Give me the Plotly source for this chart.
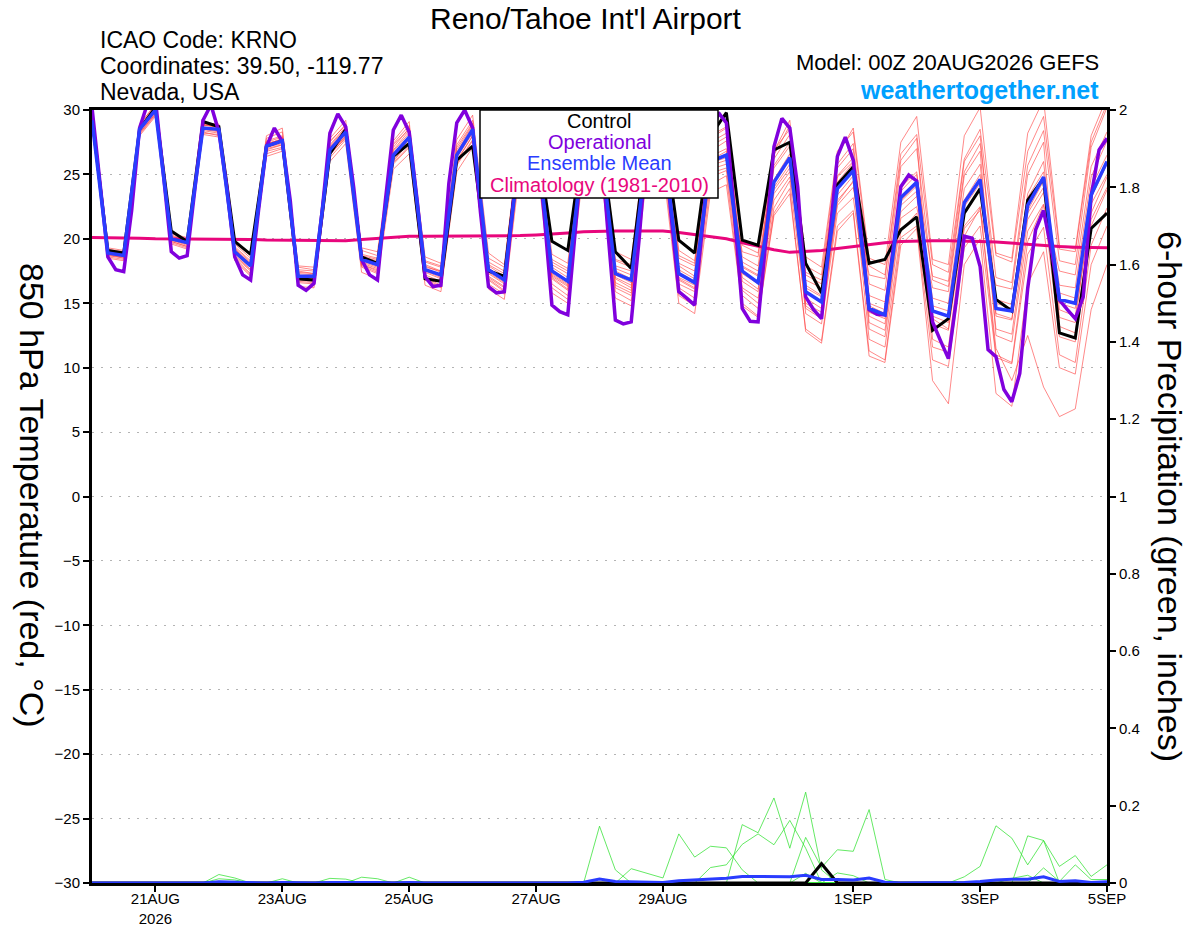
import pandas as pd
import plotly.graph_objects as go

# time axes: GEFS members every 6 h, operational GFS every 3 h
times6 = pd.date_range("2026-08-20 00:00", periods=65, freq="6h")
times3 = pd.date_range("2026-08-20 00:00", periods=129, freq="3h")

# 850 hPa temperature (C)
control_t = [29.5, 19.1, 18.9, 28.5, 30.2, 20.6, 19.8, 29.1, 28.7, 19.8, 18.8, 27.2, 27.6,
             16.9, 16.8, 26.6, 28.5, 18.6, 18.1, 26.4, 27.4, 16.9, 16.7, 26.1, 27.2,
             17.5, 17.1, 27.5, 28.3, 19.8, 19.1, 28.0, 28.5, 19.0, 17.7, 27.8, 28.8,
             19.9, 18.9, 28.0, 29.8, 19.9, 19.5, 26.9, 27.5, 18.1, 15.8, 24.2, 25.6,
             18.1, 18.4, 20.7, 21.7, 12.9, 13.8, 22.0, 23.9, 15.3, 14.4, 23.0, 24.7,
             12.7, 12.3, 20.8, 22.0]

ens_mean_t = [29.2, 18.9, 18.7, 28.5, 30.0, 20.0, 19.7, 28.6, 28.5, 19.0, 17.9, 27.2, 27.6,
              17.1, 17.1, 26.9, 28.3, 18.4, 18.0, 26.5, 27.9, 17.6, 17.2, 26.5, 28.5,
              17.6, 16.8, 27.0, 27.8, 17.5, 16.7, 27.3, 28.0, 17.3, 16.8, 27.0, 27.8,
              17.3, 16.6, 26.0, 26.5, 17.5, 16.6, 24.4, 26.3, 15.9, 15.1, 23.9, 25.3,
              14.6, 14.1, 23.2, 24.4, 14.4, 14.0, 22.8, 24.6, 14.6, 14.4, 22.6, 24.8,
              15.3, 15.0, 23.4, 26.0]

operational_t = [30.2, 24.5, 18.6, 17.6, 17.45, 22.2, 28.6, 30.5, 30.8, 25.0, 19.0, 18.5,
                 18.7, 24.0, 29.2, 30.4, 28.3, 24.0, 18.6, 17.2, 16.8, 22.2, 27.15, 28.6,
                 27.55, 23.0, 16.4, 16.0, 16.55, 22.0, 28.2, 29.7, 28.7, 24.0, 18.4, 17.2,
                 16.8, 23.0, 28.45, 29.6, 28.3, 23.0, 17.05, 16.3, 16.4, 24.3, 29.0, 30.0,
                 28.6, 22.0, 16.3, 15.8, 15.9, 22.0, 28.0, 29.5, 28.5, 22.0, 14.85, 14.35,
                 14.1, 21.0, 28.0, 29.8, 28.8, 21.0, 13.7, 13.4, 13.55, 20.0, 27.5, 29.5,
                 28.5, 22.0, 15.9, 15.4, 14.85, 21.0, 27.5, 29.8, 29.0, 22.0, 14.6, 13.6,
                 13.55, 20.0, 27.15, 29.35, 28.6, 24.0, 15.5, 14.5, 13.8, 19.9, 26.4, 27.9,
                 26.1, 20.4, 14.5, 14.15, 14.1, 19.1, 24.05, 24.95, 24.5, 19.1, 13.55, 12.1,
                 10.7, 15.25, 20.2, 20.05, 17.85, 11.4, 10.85, 8.3, 7.35, 9.55, 16.15, 20.7,
                 22.2, 19.1, 15.25, 14.5, 13.8, 15.5, 23.3, 26.9, 27.8]

climo_t = [20.1, 20.1, 20.05, 20.05, 20.0, 20.0, 20.0, 19.95, 19.95, 19.95, 19.95, 19.9, 19.9,
           19.9, 19.85, 19.85, 19.85, 19.95, 20.05, 20.15, 20.2, 20.2, 20.2, 20.2, 20.2,
           20.2, 20.25, 20.25, 20.3, 20.35, 20.45, 20.55, 20.6, 20.6, 20.6, 20.6, 20.6,
           20.5, 20.35, 20.2, 20.0, 19.7, 19.4, 19.15, 18.95, 19.0, 19.1, 19.25, 19.4,
           19.6, 19.7, 19.8, 19.85, 19.85, 19.85, 19.85, 19.8, 19.75, 19.65, 19.55, 19.45,
           19.4, 19.35, 19.3, 19.3]

# ensemble members (red)
m01 = [29.6, 19.2, 19.0, 28.9, 30.4, 20.3, 19.9, 29.0, 28.9, 19.6, 18.5, 27.8, 28.3,
       17.8, 17.6, 27.5, 28.9, 19.1, 18.7, 27.4, 28.8, 18.6, 18.1, 27.7, 29.6,
       18.9, 18.0, 28.3, 29.0, 18.8, 18.1, 28.6, 29.4, 19.0, 18.4, 28.5, 29.3,
       19.1, 18.3, 28.0, 28.7, 19.5, 18.9, 26.5, 28.8, 18.6, 17.8, 26.8, 28.3,
       17.9, 17.2, 26.6, 28.1, 18.0, 17.4, 26.2, 28.5, 18.7, 18.2, 26.8, 29.5,
       19.2, 19.0, 27.5, 30.5]
m02 = [28.9, 18.5, 18.3, 28.0, 29.5, 19.6, 19.2, 28.1, 27.9, 18.4, 17.2, 26.4, 26.8,
       16.3, 16.2, 26.0, 27.4, 17.4, 16.9, 25.4, 26.6, 16.4, 15.9, 25.2, 27.1,
       16.1, 15.3, 25.6, 26.3, 15.8, 15.0, 25.5, 26.1, 15.4, 14.8, 25.0, 25.6,
       15.0, 14.2, 23.6, 24.2, 14.8, 13.9, 21.8, 23.5, 13.0, 12.1, 21.0, 22.2,
       11.3, 10.6, 20.1, 21.0, 10.6, 10.1, 19.3, 21.0, 10.8, 10.3, 18.8, 20.9,
       11.0, 10.4, 19.5, 22.4]
m03 = [29.0, 19.0, 18.8, 28.7, 30.2, 19.8, 19.4, 28.9, 28.6, 19.3, 18.2, 27.0, 27.3,
       17.4, 17.3, 27.3, 28.7, 18.0, 17.5, 26.1, 27.5, 18.2, 17.8, 27.1, 29.0,
       17.0, 16.2, 26.4, 27.1, 18.2, 17.5, 28.0, 28.9, 16.6, 16.0, 26.2, 27.0,
       18.1, 17.5, 27.2, 27.9, 16.2, 15.4, 23.0, 24.8, 17.4, 16.8, 25.5, 27.0,
       13.0, 12.4, 21.6, 22.5, 16.2, 15.9, 24.9, 26.8, 12.5, 12.0, 20.6, 22.7,
       17.5, 17.2, 25.6, 28.3]
m04 = [29.3, 18.7, 18.5, 28.3, 29.8, 20.2, 19.9, 28.8, 28.8, 18.7, 17.6, 27.6, 28.0,
       17.0, 16.8, 26.5, 27.9, 18.8, 18.5, 27.1, 28.6, 17.2, 16.7, 26.0, 28.0,
       18.2, 17.5, 27.7, 28.7, 17.0, 16.1, 26.8, 27.4, 17.9, 17.5, 27.9, 28.8,
       18.5, 17.9, 27.5, 28.2, 18.6, 17.9, 26.2, 28.1, 17.2, 16.5, 25.8, 27.4,
       16.5, 16.0, 25.6, 27.0, 16.8, 16.3, 25.2, 27.4, 17.0, 16.6, 25.7, 28.4,
       18.3, 18.0, 27.1, 30.2]
m05 = [29.4, 18.8, 18.6, 28.6, 30.1, 19.9, 19.5, 28.4, 28.2, 18.6, 17.5, 26.8, 27.1,
       16.6, 16.5, 26.3, 27.7, 17.8, 17.3, 25.9, 27.2, 16.9, 16.3, 25.7, 27.6,
       16.8, 15.9, 26.1, 26.9, 16.2, 15.3, 26.0, 26.6, 15.9, 15.2, 25.6, 26.2,
       15.6, 14.8, 24.2, 24.9, 15.0, 14.0, 22.0, 23.9, 12.8, 11.9, 20.6, 22.0,
       10.9, 10.4, 19.5, 20.8, 9.0, 7.2, 18.0, 20.0, 8.0, 7.0, 16.5, 19.0,
       10.0, 9.5, 18.0, 21.0]
m06 = [29.1, 19.1, 18.9, 28.2, 29.7, 20.1, 19.6, 28.3, 28.0, 19.2, 18.0, 27.4, 27.7,
       17.5, 17.3, 27.1, 28.5, 18.6, 18.3, 26.8, 28.2, 18.0, 17.5, 26.7, 28.8,
       17.3, 16.5, 26.8, 27.5, 17.8, 17.0, 27.6, 28.3, 17.7, 17.2, 27.4, 28.3,
       16.5, 15.9, 25.1, 25.5, 17.9, 17.2, 25.5, 27.2, 16.4, 15.6, 24.8, 26.0,
       15.6, 15.1, 24.0, 25.2, 13.8, 13.0, 21.0, 22.5, 11.5, 9.0, 12.5, 8.5,
       6.2, 6.8, 14.5, 18.0]
m07 = [29.5, 18.9, 18.8, 28.8, 30.5, 19.7, 19.3, 28.7, 28.4, 19.8, 18.7, 28.0, 28.6,
       17.9, 17.8, 27.8, 29.2, 17.9, 17.4, 25.8, 27.1, 17.8, 17.5, 26.9, 28.9,
       18.5, 17.8, 28.0, 29.1, 16.9, 16.0, 26.5, 27.1, 18.4, 18.0, 28.2, 29.2,
       16.8, 16.1, 25.4, 25.8, 19.0, 18.6, 26.9, 28.5, 14.8, 13.9, 22.6, 24.0,
       17.2, 16.9, 26.1, 27.8, 12.2, 11.6, 20.8, 22.2, 16.4, 16.1, 25.0, 27.5,
       13.2, 12.7, 21.5, 24.0]
m08 = [28.8, 18.6, 18.4, 28.1, 29.6, 20.4, 20.1, 28.5, 28.6, 18.9, 17.8, 27.3, 27.8,
       16.9, 16.9, 26.7, 28.0, 18.5, 18.1, 26.9, 28.4, 17.4, 16.9, 26.3, 28.2,
       17.9, 17.1, 27.3, 28.0, 18.0, 17.3, 27.9, 28.6, 17.0, 16.4, 26.6, 27.4,
       17.6, 16.9, 26.4, 27.0, 17.0, 16.1, 24.0, 25.8, 16.2, 15.5, 24.4, 25.9,
       14.0, 13.4, 22.6, 23.7, 15.4, 15.0, 23.9, 25.8, 14.0, 13.7, 22.0, 24.0,
       16.4, 16.2, 24.8, 27.6]
m09 = [29.2, 19.3, 19.1, 28.6, 30.0, 20.0, 19.8, 28.9, 28.8, 18.3, 17.1, 26.6, 27.0,
       17.2, 17.0, 27.0, 28.4, 19.3, 19.0, 27.6, 29.1, 17.0, 16.4, 25.8, 27.7,
       16.5, 15.7, 26.2, 27.0, 17.3, 16.5, 27.2, 27.9, 16.2, 15.6, 26.0, 26.7,
       17.9, 17.1, 26.8, 27.6, 18.2, 17.5, 25.7, 27.5, 15.4, 14.6, 23.0, 24.4,
       15.0, 14.5, 23.7, 25.0, 17.1, 16.7, 26.0, 28.0, 15.3, 14.9, 23.5, 26.0,
       14.5, 14.0, 22.0, 24.8]
m10 = [29.7, 19.0, 18.7, 28.4, 29.9, 20.0, 19.7, 28.6, 28.5, 19.4, 18.3, 27.5, 27.9,
       17.3, 17.2, 27.2, 28.6, 18.2, 17.8, 26.6, 28.0, 18.3, 17.9, 27.3, 29.2,
       17.7, 17.0, 27.2, 28.1, 18.4, 17.7, 28.3, 29.1, 18.3, 17.8, 28.0, 29.0,
       18.7, 18.1, 27.8, 28.6, 17.8, 17.1, 26.8, 29.2, 17.9, 17.2, 26.5, 28.6,
       18.5, 18.0, 27.5, 29.5, 18.4, 18.0, 28.0, 30.2, 18.9, 18.5, 28.2, 30.8,
       19.5, 19.2, 28.0, 31.0]
m11 = [28.7, 18.8, 18.5, 28.2, 29.7, 19.8, 19.4, 28.2, 28.1, 19.0, 17.9, 27.1, 27.4,
       16.8, 16.7, 26.6, 27.8, 18.1, 17.7, 26.3, 27.7, 17.9, 17.4, 26.6, 28.4,
       17.1, 16.3, 26.5, 27.2, 17.1, 16.3, 26.9, 27.5, 17.5, 16.9, 27.1, 27.9,
       16.2, 15.4, 24.8, 25.3, 16.0, 15.0, 23.5, 25.2, 16.8, 16.2, 24.9, 26.3,
       13.5, 12.9, 22.1, 23.3, 14.8, 14.4, 23.0, 25.0, 13.0, 12.6, 21.5, 23.6,
       15.8, 15.4, 24.0, 26.5]
m12 = [29.4, 19.1, 18.9, 28.7, 30.3, 20.2, 19.8, 28.8, 28.7, 18.8, 17.6, 27.1, 27.6,
       17.6, 17.5, 27.6, 28.8, 18.7, 18.4, 27.3, 28.5, 17.5, 17.0, 26.6, 28.6,
       18.0, 17.3, 27.5, 28.4, 16.5, 15.6, 26.2, 26.8, 17.2, 16.6, 26.9, 27.6,
       17.0, 16.4, 25.7, 26.1, 17.3, 16.5, 24.6, 26.6, 14.2, 13.4, 22.0, 23.2,
       14.3, 13.8, 22.9, 24.1, 13.4, 12.9, 21.9, 23.8, 15.0, 14.6, 23.2, 25.2,
       13.9, 13.5, 22.7, 25.0]
m13 = [29.0, 18.9, 18.7, 28.5, 30.1, 20.0, 19.6, 28.5, 28.3, 19.2, 18.1, 27.4, 27.7,
       17.1, 17.0, 26.8, 28.1, 18.3, 17.9, 26.4, 27.8, 17.6, 17.1, 26.4, 28.3,
       16.9, 16.0, 26.9, 27.6, 17.6, 16.8, 27.4, 28.1, 16.9, 16.2, 26.8, 27.5,
       17.4, 16.7, 26.1, 26.8, 16.7, 15.9, 23.8, 25.5, 15.0, 14.3, 23.4, 24.9,
       14.8, 14.2, 23.0, 24.2, 14.0, 13.5, 22.5, 24.3, 14.2, 13.8, 22.2, 24.5,
       15.0, 14.6, 23.2, 25.8]
m14 = [29.3, 18.7, 18.6, 28.4, 29.9, 19.9, 19.6, 28.5, 28.4, 18.5, 17.3, 26.9, 27.3,
       16.7, 16.6, 26.6, 28.0, 18.0, 17.6, 26.0, 27.5, 16.8, 16.2, 26.1, 28.0,
       17.4, 16.6, 26.7, 27.6, 17.2, 16.4, 27.0, 27.7, 16.4, 15.8, 26.4, 27.2,
       16.9, 16.2, 25.9, 26.3, 15.6, 14.6, 22.4, 24.5, 14.6, 13.8, 22.8, 24.5,
       12.2, 11.6, 20.6, 22.0, 11.6, 11.2, 20.2, 22.4, 11.0, 10.4, 19.8, 22.6,
       12.4, 12.0, 21.0, 23.8]
ens_members_t = [m01, m02, m03, m04, m05, m06, m07, m08, m09, m10, m11, m12, m13, m14]

# 6-hour precipitation (inches), green members
g1 = [0, 0, 0, 0, 0,  0, 0, 0, 0.022, 0.013,  0, 0, 0, 0, 0,  0, 0, 0, 0, 0,
      0, 0, 0, 0, 0,  0, 0, 0, 0, 0,  0, 0, 0.147, 0.034, 0,  0, 0, 0, 0, 0,
      0, 0, 0, 0, 0,  0, 0, 0, 0, 0,  0, 0, 0, 0, 0,  0, 0, 0, 0, 0,  0, 0, 0, 0, 0]
g2 = [0, 0, 0, 0, 0,  0, 0, 0, 0, 0,  0, 0, 0, 0, 0,  0, 0, 0.015, 0.011, 0,
      0, 0, 0, 0, 0,  0, 0, 0, 0, 0,  0, 0, 0, 0, 0.037,  0.025, 0.013, 0.127, 0.067, 0.095,
      0.091, 0.034, 0, 0, 0,  0, 0, 0, 0, 0,  0, 0, 0, 0, 0,  0, 0, 0, 0, 0,  0, 0, 0, 0, 0]
g3 = [0, 0, 0, 0, 0,  0, 0, 0, 0, 0,  0, 0, 0, 0, 0,  0, 0, 0, 0, 0,
      0, 0, 0, 0, 0,  0, 0, 0, 0, 0,  0, 0, 0, 0, 0,  0, 0, 0, 0, 0.040,
      0.047, 0.100, 0.127, 0.099, 0.162,  0.090, 0, 0, 0, 0,  0, 0, 0, 0, 0,  0, 0, 0, 0, 0,  0, 0, 0, 0, 0]
g4 = [0, 0, 0, 0, 0,  0, 0, 0, 0, 0,  0, 0, 0, 0, 0,  0, 0, 0, 0, 0,
      0, 0, 0, 0, 0,  0, 0, 0, 0, 0,  0, 0, 0, 0, 0,  0, 0, 0, 0, 0,
      0, 0.151, 0.130, 0.220, 0.090,  0.235, 0.034, 0, 0, 0,  0, 0, 0, 0, 0,  0, 0, 0, 0, 0,  0, 0, 0, 0, 0]
g5 = [0, 0, 0, 0, 0,  0, 0, 0, 0, 0,  0, 0, 0.011, 0, 0,  0, 0, 0, 0, 0,
      0.015, 0, 0, 0, 0,  0, 0, 0, 0, 0,  0, 0, 0, 0, 0,  0, 0, 0, 0, 0,
      0, 0, 0, 0, 0,  0.118, 0.040, 0.086, 0.082, 0.190,  0.009, 0, 0, 0, 0,  0, 0, 0, 0, 0,  0, 0, 0, 0, 0]
g6 = [0, 0, 0, 0, 0,  0, 0, 0, 0.011, 0.008,  0, 0, 0, 0, 0,  0.012, 0.010, 0, 0, 0,
      0, 0, 0, 0, 0,  0, 0, 0, 0, 0,  0, 0, 0, 0, 0,  0, 0, 0, 0, 0,
      0, 0, 0, 0, 0,  0.025, 0, 0.026, 0.019, 0,  0, 0, 0, 0, 0,  0, 0, 0, 0.012, 0.020,  0, 0, 0, 0, 0]
g7 = [0, 0, 0, 0, 0,  0, 0, 0, 0, 0,  0, 0, 0, 0, 0,  0, 0, 0, 0, 0,
      0, 0, 0, 0, 0,  0, 0, 0, 0, 0,  0, 0, 0, 0, 0,  0, 0, 0, 0, 0,
      0, 0, 0, 0, 0,  0, 0, 0, 0, 0,  0, 0, 0, 0, 0,  0.016, 0.043, 0.148, 0.116, 0.047,  0.110, 0, 0, 0, 0]
g8 = [0, 0, 0, 0, 0,  0, 0, 0, 0, 0,  0, 0, 0, 0, 0,  0, 0, 0, 0, 0,
      0, 0, 0, 0, 0,  0, 0, 0, 0, 0,  0, 0, 0, 0, 0,  0, 0, 0, 0, 0,
      0, 0, 0, 0, 0,  0, 0, 0, 0, 0,  0, 0, 0, 0, 0,  0, 0, 0, 0, 0.122,  0.110, 0.043, 0.071, 0.017, 0.047]
g9 = [0, 0, 0, 0, 0,  0, 0, 0, 0, 0,  0, 0, 0, 0, 0,  0, 0, 0, 0, 0,
      0, 0, 0, 0, 0,  0, 0, 0, 0, 0,  0, 0, 0, 0, 0,  0, 0, 0, 0, 0,
      0, 0, 0, 0, 0,  0, 0, 0, 0, 0,  0, 0, 0, 0, 0,  0, 0, 0, 0, 0,  0.039, 0.004, 0.047, 0.009, 0.009]
ens_members_p = [g1, g2, g3, g4, g5, g6, g7, g8, g9]

ens_mean_p = [0, 0, 0, 0, 0,  0, 0, 0, 0.003, 0.002,  0, 0, 0.001, 0, 0,  0.001, 0.001, 0.002, 0.001, 0,
              0.001, 0, 0, 0, 0,  0, 0, 0, 0, 0,  0, 0.002, 0.010, 0.004, 0.003,  0.002, 0.001, 0.006, 0.008, 0.010,
              0.012, 0.017, 0.017, 0.016, 0.016,  0.020, 0.009, 0.009, 0.008, 0.013,  0.002, 0, 0, 0, 0,
              0.001, 0.004, 0.008, 0.010, 0.010,  0.016, 0.004, 0.006, 0.001, 0.003]
control_p = [0] * 46 + [0.050] + [0] * 18

tick_days = ["2026-08-21", "2026-08-23", "2026-08-25", "2026-08-27", "2026-08-29",
             "2026-09-01", "2026-09-03", "2026-09-05"]
tick_text = ["21AUG<br>2026", "23AUG", "25AUG", "27AUG", "29AUG", "1SEP", "3SEP", "5SEP"]
temp_ticks = list(range(-30, 31, 5))
precip_ticks = [0, 0.2, 0.4, 0.6, 0.8, 1, 1.2, 1.4, 1.6, 1.8, 2]
precip_text = ["0", "0.2", "0.4", "0.6", "0.8", "1", "1.2", "1.4", "1.6", "1.8", "2"]

# colours
C_CTRL = "black"
C_OPER = "#8000dd"
C_MEAN = "#2a3cff"
C_CLIM = "#e8067c"
C_RED = "rgba(255,70,70,0.8)"
C_GREEN = "rgba(40,225,40,0.9)"
FONT = "Liberation Sans, Arial, Helvetica, sans-serif"

# canvas and plot area in pixels (the page body margin is removed below)
W, H = 1200, 927
L, R, T, B = 92, 1107, 110, 883


def px(x):
    return (x - L) / (R - L)


def py(y):
    return (B - y) / (B - T)


fig = go.Figure()

for m in ens_members_t:
    fig.add_trace(go.Scatter(x=times6, y=m, mode="lines", line=dict(color=C_RED, width=0.8),
                             hoverinfo="skip", showlegend=False))
for g in ens_members_p:
    fig.add_trace(go.Scatter(x=times6, y=g, mode="lines", line=dict(color=C_GREEN, width=0.8),
                             yaxis="y2", hoverinfo="skip", showlegend=False))

fig.add_trace(go.Scatter(x=times6, y=climo_t, mode="lines", line=dict(color=C_CLIM, width=3),
                         showlegend=False))
fig.add_trace(go.Scatter(x=times6, y=control_p, mode="lines", line=dict(color=C_CTRL, width=3),
                         yaxis="y2", showlegend=False))
fig.add_trace(go.Scatter(x=times6, y=ens_mean_p, mode="lines", line=dict(color=C_MEAN, width=3),
                         yaxis="y2", showlegend=False))
fig.add_trace(go.Scatter(x=times6, y=control_t, mode="lines", line=dict(color=C_CTRL, width=3),
                         showlegend=False))
fig.add_trace(go.Scatter(x=times3, y=operational_t, mode="lines", line=dict(color=C_OPER, width=3.5),
                         showlegend=False))
fig.add_trace(go.Scatter(x=times6, y=ens_mean_t, mode="lines", line=dict(color=C_MEAN, width=3.5),
                         showlegend=False))

axis_common = dict(showline=True, linecolor="black", linewidth=3, ticks="outside", ticklen=6,
                   tickwidth=1.5, tickcolor="black", tickfont=dict(size=15, color="black"),
                   automargin=False)

fig.update_layout(
    width=W, height=H,
    margin=dict(l=L, r=W - R, t=T, b=H - B, pad=0),
    paper_bgcolor="white", plot_bgcolor="white",
    font=dict(family=FONT, color="black"),
    showlegend=False,
    xaxis=dict(type="date", range=[times6[0], times6[-1]], tickvals=tick_days, ticktext=tick_text,
               showgrid=False, zeroline=False, mirror=True, ticklabelstandoff=-6, **axis_common),
    yaxis=dict(range=[-30, 30], tickvals=temp_ticks, showgrid=True, gridcolor="#b4b4b4",
               gridwidth=1, griddash="2px,7px", zeroline=False, **axis_common),
    yaxis2=dict(range=[0, 2], overlaying="y", side="right", tickvals=precip_ticks,
                ticktext=precip_text, showgrid=False, zeroline=False, **axis_common),
)

# legend box
fig.add_shape(type="rect", xref="paper", yref="paper", x0=px(480), x1=px(718), y0=py(198), y1=py(110),
              fillcolor="white", line=dict(color="black", width=1.5), layer="above")

notes = [
    ("Control", 599, 121, C_CTRL, 20, "center"),
    ("Operational", 599, 142, C_OPER, 20, "center"),
    ("Ensemble Mean", 599, 163, C_MEAN, 20, "center"),
    ("Climatology (1981-2010)", 599, 185, C_CLIM, 20, "center"),
    ("Reno/Tahoe Int'l Airport", 586, 19, "black", 30, "center"),
    ("ICAO Code: KRNO", 98, 40, "black", 23, "left"),
    ("Coordinates: 39.50, -119.77", 98, 66, "black", 23, "left"),
    ("Nevada, USA", 98, 92, "black", 23, "left"),
    ("Model: 00Z 20AUG2026 GEFS", 1101, 62, "black", 22, "right"),
    ("<b>weathertogether.net</b>", 1101, 90, "#00a0ff", 25, "right"),
]
for text, x, y, color, size, anchor in notes:
    fig.add_annotation(text=text, xref="paper", yref="paper", x=px(x), y=py(y), xanchor=anchor,
                       yanchor="middle", showarrow=False, font=dict(size=size, color=color, family=FONT))

fig.add_annotation(text="850 hPa Temperature (red, °C)", xref="paper", yref="paper", x=px(32), y=py(495),
                   xanchor="center", yanchor="middle", textangle=90, showarrow=False,
                   font=dict(size=34, color="black", family=FONT))
fig.add_annotation(text="6-hour Precipitation (green, inches)", xref="paper", yref="paper", x=px(1170),
                   y=py(496), xanchor="center", yanchor="middle", textangle=90, showarrow=False,
                   font=dict(size=34, color="black", family=FONT))

fig.write_html("out.html", config={"displayModeBar": False},
               post_script="document.body.style.margin = '0';")
